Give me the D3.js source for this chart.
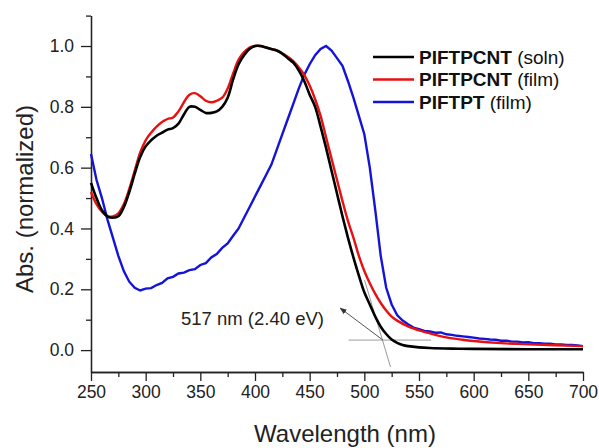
<!DOCTYPE html>
<html>
<head>
<meta charset="utf-8">
<script src="https://cdn.jsdelivr.net/npm/d3@7"></script>
<style>
  body { margin: 0; background: #fff; }
  svg { font-family: "Liberation Sans", Arial, sans-serif; }
  .axis path, .axis line { stroke: #222; stroke-width: 1.3; }
  .axis text { font-size: 17.5px; fill: #222; }
</style>
</head>
<body>
<div id="chart"></div>
<script>
// wavelength (nm) and normalized absorbance
var solnWl = [250,255,260,265,270,275,280,285,290,295,300,305,310,315,320,325,330,335,340,345,350,355,360,365,370,375,380,385,390,395,400,405,410,415,420,425,430,435,440,445,450,455,460,465,470,475,480,485,490,495,500,505,510,515,520,525,530,535,540,550,560,580,600,650,700];
var solnAbs = [0.55,0.50,0.46,0.44,0.435,0.44,0.47,0.52,0.58,0.635,0.67,0.69,0.705,0.715,0.725,0.73,0.745,0.775,0.80,0.80,0.79,0.78,0.78,0.785,0.80,0.83,0.89,0.94,0.97,0.99,1.0,1.0,0.995,0.99,0.985,0.975,0.96,0.945,0.92,0.885,0.84,0.80,0.735,0.665,0.59,0.515,0.44,0.37,0.305,0.245,0.19,0.15,0.11,0.077,0.053,0.035,0.024,0.017,0.013,0.009,0.007,0.005,0.004,0.003,0.003];

var filmWl = [250,255,260,265,270,275,280,285,290,295,300,305,310,315,320,325,330,335,340,345,350,355,360,365,370,375,380,385,390,395,400,405,410,415,420,425,430,435,440,445,450,455,460,465,470,475,480,485,490,495,500,505,510,515,520,525,530,540,550,560,575,590,600,625,650,675,700];
var filmAbs = [0.52,0.48,0.455,0.44,0.44,0.45,0.48,0.53,0.59,0.65,0.69,0.715,0.735,0.75,0.76,0.765,0.785,0.815,0.84,0.845,0.835,0.82,0.815,0.82,0.83,0.86,0.91,0.955,0.98,0.995,1.0,1.0,0.995,0.99,0.985,0.975,0.965,0.95,0.93,0.905,0.87,0.825,0.77,0.70,0.63,0.56,0.49,0.425,0.37,0.31,0.26,0.22,0.185,0.155,0.13,0.11,0.097,0.078,0.065,0.055,0.042,0.034,0.03,0.023,0.019,0.016,0.013];

var ptWl = [250,255,260,265,270,275,280,285,290,295,300,305,310,315,320,325,330,335,340,345,350,355,360,365,370,375,380,385,390,395,400,405,410,415,420,425,430,435,440,445,450,455,460,465,470,475,480,485,490,495,500,505,510,515,520,525,530,535,540,545,550,555,560,565,570,575,580,585,590,595,600,605,610,615,620,625,630,635,640,645,650,655,660,665,670,675,680,685,690,695,700];
var ptAbs = [0.645,0.56,0.50,0.43,0.37,0.31,0.26,0.225,0.205,0.196,0.202,0.204,0.214,0.221,0.236,0.241,0.252,0.255,0.263,0.266,0.28,0.286,0.305,0.316,0.336,0.351,0.376,0.40,0.435,0.47,0.505,0.54,0.575,0.61,0.66,0.71,0.76,0.81,0.86,0.905,0.94,0.97,0.99,1.0,0.985,0.96,0.935,0.885,0.83,0.77,0.71,0.60,0.46,0.31,0.205,0.15,0.115,0.097,0.085,0.074,0.069,0.063,0.061,0.057,0.058,0.052,0.05,0.047,0.045,0.043,0.041,0.038,0.037,0.035,0.034,0.031,0.031,0.028,0.028,0.025,0.026,0.023,0.023,0.021,0.021,0.019,0.019,0.017,0.017,0.015,0.013];

var seriesNames = ["PIFTPCNT", "PIFTPCNT", "PIFTPT"];
var seriesTags = ["(soln)", "(film)", "(film)"];
var seriesColors = ["#000000", "#e81010", "#1414d8"];

var xTicks = [250,300,350,400,450,500,550,600,650,700];
var xMinor = [275,325,375,425,475,525,575,625,675];
var yTicks = [0.0,0.2,0.4,0.6,0.8,1.0];
var yMinor = [0.1,0.3,0.5,0.7,0.9,1.1];

// band-gap construction lines (wavelength, abs)
var tangentLine = [[500.2,0.23],[524,-0.056]];
var baseLine = [[485.5,0.033],[561,0.033]];
var arrowLine = [[517,0.033],[478,0.138]];
var noteText = "517 nm (2.40 eV)";

var width = 599, height = 448;
var margin = {top: 15.6, right: 16, bottom: 76, left: 91};

var svg = d3.select("#chart").append("svg")
  .attr("width", width)
  .attr("height", height);

var x = d3.scaleLinear().domain([250, 700]).range([margin.left, width - margin.right]);
var y = d3.scaleLinear().domain([-0.072, 1.1]).range([height - margin.bottom, margin.top]);

// axes
svg.append("g")
  .attr("class", "axis")
  .attr("transform", "translate(0," + (height - margin.bottom) + ")")
  .call(d3.axisBottom(x).tickValues(xTicks).tickSize(9).tickSizeOuter(0).tickPadding(5).tickFormat(d3.format("d")));

svg.append("g")
  .attr("class", "axis")
  .attr("transform", "translate(0," + (height - margin.bottom) + ")")
  .call(d3.axisBottom(x).tickValues(xMinor).tickSize(5).tickSizeOuter(0).tickFormat(""));

svg.append("g")
  .attr("class", "axis")
  .attr("transform", "translate(" + margin.left + ",0)")
  .call(d3.axisLeft(y).tickValues(yTicks).tickSize(10).tickSizeOuter(0).tickPadding(7).tickFormat(d3.format(".1f")));

svg.append("g")
  .attr("class", "axis")
  .attr("transform", "translate(" + margin.left + ",0)")
  .call(d3.axisLeft(y).tickValues(yMinor).tickSize(5).tickSizeOuter(0).tickFormat(""));

svg.append("text")
  .attr("x", (x(250) + x(700)) / 2 + 8)
  .attr("y", 442)
  .attr("text-anchor", "middle")
  .attr("font-size", 24)
  .attr("fill", "#222")
  .text("Wavelength (nm)");

svg.append("text")
  .attr("transform", "translate(33,199) rotate(-90)")
  .attr("text-anchor", "middle")
  .attr("font-size", 24)
  .attr("fill", "#222")
  .text("Abs. (normalized)");

// construction lines
var seg = d3.line().x(function(d) { return x(d[0]); }).y(function(d) { return y(d[1]); });

svg.append("path").attr("d", seg(tangentLine)).attr("stroke", "#9a9a9a").attr("stroke-width", 1).attr("fill", "none");
svg.append("path").attr("d", seg(baseLine)).attr("stroke", "#9a9a9a").attr("stroke-width", 1).attr("fill", "none");

svg.append("defs").append("marker")
  .attr("id", "arrow")
  .attr("viewBox", "0 0 10 10")
  .attr("refX", 9).attr("refY", 5)
  .attr("markerWidth", 7).attr("markerHeight", 7)
  .attr("orient", "auto")
  .append("path")
  .attr("d", "M0,1 L10,5 L0,9 z")
  .attr("fill", "#333");

svg.append("path")
  .attr("d", seg(arrowLine))
  .attr("stroke", "#555")
  .attr("stroke-width", 1)
  .attr("fill", "none")
  .attr("marker-end", "url(#arrow)");

svg.append("text")
  .attr("x", 181)
  .attr("y", 325)
  .attr("font-size", 18.5)
  .attr("fill", "#222")
  .text(noteText);

// spectra
var smooth = d3.line()
  .x(function(d) { return x(d[0]); })
  .y(function(d) { return y(d[1]); })
  .curve(d3.curveCatmullRom);

var rough = d3.line()
  .x(function(d) { return x(d[0]); })
  .y(function(d) { return y(d[1]); });

var plot = svg.append("g");

plot.append("path")
  .datum(d3.zip(ptWl, ptAbs))
  .attr("d", rough)
  .attr("fill", "none")
  .attr("stroke", seriesColors[2])
  .attr("stroke-width", 2.4);

plot.append("path")
  .datum(d3.zip(filmWl, filmAbs))
  .attr("d", smooth)
  .attr("fill", "none")
  .attr("stroke", seriesColors[1])
  .attr("stroke-width", 2.4);

plot.append("path")
  .datum(d3.zip(solnWl, solnAbs))
  .attr("d", smooth)
  .attr("fill", "none")
  .attr("stroke", seriesColors[0])
  .attr("stroke-width", 2.6);

// legend
var legend = svg.selectAll(".legend")
  .data(seriesNames)
  .enter()
  .append("g")
  .attr("class", "legend")
  .attr("transform", function(d, i) { return "translate(373," + (57 + i * 22.5) + ")"; });

legend.append("line")
  .attr("x1", 0).attr("x2", 41)
  .attr("stroke", function(d, i) { return seriesColors[i]; })
  .attr("stroke-width", 2.6);

var lt = legend.append("text")
  .attr("x", 46)
  .attr("dy", "0.36em")
  .attr("font-size", 19)
  .attr("fill", "#111");

lt.append("tspan").attr("font-weight", "bold").text(function(d) { return d; });
lt.append("tspan").text(function(d, i) { return " " + seriesTags[i]; });
</script>
</body>
</html>
